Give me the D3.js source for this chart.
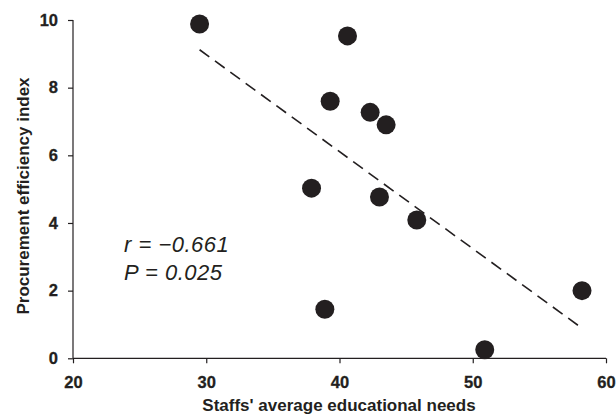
<!DOCTYPE html>
<html><head><meta charset="utf-8">
<script src="https://cdn.jsdelivr.net/npm/d3@7"></script>
<style>body{margin:0;background:#fff}svg{display:block}</style>
</head><body>
<script>
const xValues = [29.5, 40.6, 39.3, 42.3, 43.5, 37.9, 43.0, 45.8, 38.9, 50.9, 58.2];
const yValues = [9.88, 9.53, 7.60, 7.27, 6.90, 5.03, 4.77, 4.09, 1.45, 0.25, 2.00];
const fitX = [29.5, 58.3];
const fitY = [9.12, 0.86];
const xTicks = [20, 30, 40, 50, 60];
const yTicks = [0, 2, 4, 6, 8, 10];
const statLabels = ["r = \u22120.661", "P = 0.025"];

const W = 616, H = 414;
const svg = d3.select("body").append("svg").attr("width", W).attr("height", H);
const x = d3.scaleLinear().domain([20, 60]).range([73, 606]);
const y = d3.scaleLinear().domain([0, 10]).range([358.3, 20]);
const font = "Liberation Sans, Arial, Helvetica, sans-serif";

const xa = svg.append("g").attr("transform", `translate(0,${y(0)})`)
  .call(d3.axisBottom(x).tickValues(xTicks).tickSize(5).tickPadding(13));
const ya = svg.append("g").attr("transform", `translate(${x(20)},0)`)
  .call(d3.axisLeft(y).tickValues(yTicks).tickSize(5).tickPadding(10));
[xa, ya].forEach(a => {
  a.attr("font-family", null).attr("font-size", null);
  a.selectAll("path,line").attr("stroke", "#231f20").attr("stroke-width", 1.2);
  a.selectAll("text").style("font-family", font).style("font-weight", "bold")
    .style("font-size", "16.5px").attr("fill", "#231f20")
    .attr("stroke", "#231f20").attr("stroke-width", 0.3);
});
xa.select(".domain").attr("d", `M${x(20)},0H${x(60)}`);
ya.select(".domain").attr("d", `M0,${y(10)}V${y(0)}`);

svg.append("line")
  .attr("x1", x(fitX[0])).attr("y1", y(fitY[0]))
  .attr("x2", x(fitX[1])).attr("y2", y(fitY[1]))
  .attr("stroke", "#231f20").attr("stroke-width", 1.6)
  .attr("stroke-dasharray", "12,7");

svg.append("g").selectAll("circle").data(xValues).join("circle")
  .attr("cx", d => x(d)).attr("cy", (d, i) => y(yValues[i]))
  .attr("r", 9.5).attr("fill", "#231f20");

svg.append("g").selectAll("text").data(statLabels).join("text")
  .attr("x", 124).attr("y", (d, i) => 251.5 + i * 28.5)
  .style("font-family", font).style("font-style", "italic")
  .style("font-size", "22px").style("letter-spacing", "0.5px")
  .attr("fill", "#231f20").text(d => d);

svg.append("text").attr("x", 339).attr("y", 411).attr("text-anchor", "middle")
  .style("font-family", font).style("font-weight", "bold").style("font-size", "17px")
  .attr("fill", "#231f20").text("Staffs' average educational needs");
svg.append("text").attr("transform", "translate(29,196) rotate(-90)")
  .attr("text-anchor", "middle")
  .style("font-family", font).style("font-weight", "bold").style("font-size", "17px")
  .attr("fill", "#231f20").text("Procurement efficiency index");
</script>
</body></html>
